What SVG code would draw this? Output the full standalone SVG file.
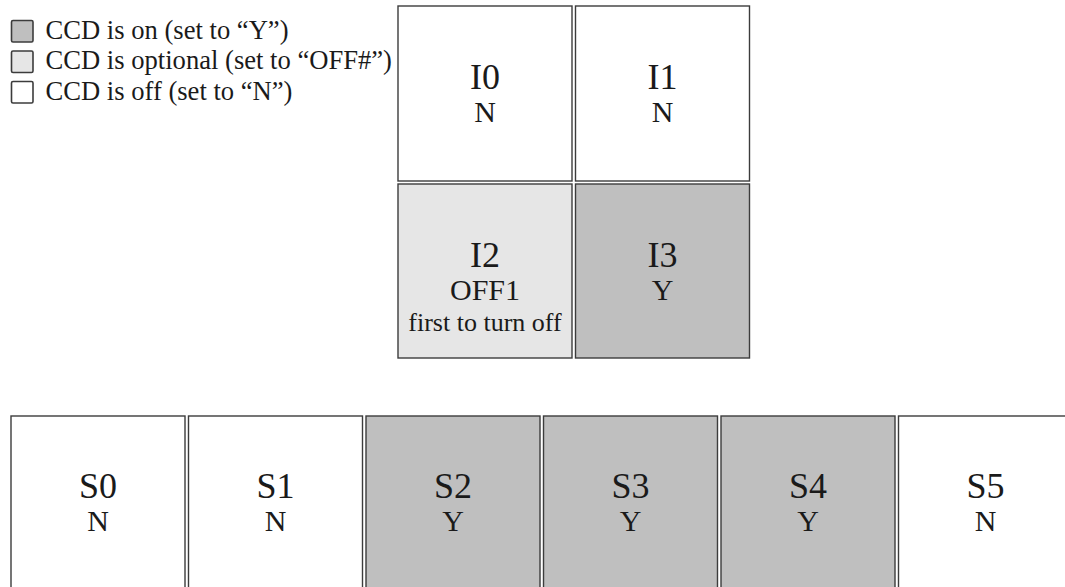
<svg xmlns="http://www.w3.org/2000/svg" width="1065" height="587" viewBox="0 0 1065 587">
<style>
  text { font-family: 'Liberation Serif', 'DejaVu Serif', 'Times New Roman', serif; fill: #1a1a1a; }
  .cell { stroke: #3c3c3c; stroke-width: 1.4; }
  .on { fill: #bfbfbf; }
  .opt { fill: #e6e6e6; }
  .off { fill: #ffffff; }
  .lg { font-size: 26.6px; }
  .name { font-size: 36px; text-anchor: middle; }
  .val { font-size: 30px; text-anchor: middle; }
  .note { font-size: 26px; text-anchor: middle; }
  .key { stroke: #3c3c3c; stroke-width: 1.6; }
</style>
<rect width="1065" height="587" fill="#ffffff"/>
<g id="legend">
  <rect class="key on" x="11.5" y="20.5" width="21.5" height="21.5" rx="1.5"/>
  <text class="lg" x="45.5" y="38.5">CCD is on (set to “Y”)</text>
  <rect class="key opt" x="11.5" y="51" width="21.5" height="21.5" rx="1.5"/>
  <text class="lg" x="45.5" y="69">CCD is optional (set to “OFF#”)</text>
  <rect class="key off" x="11.5" y="81.5" width="21.5" height="21.5" rx="1.5"/>
  <text class="lg" x="45.5" y="99.5">CCD is off (set to “N”)</text>
</g>
<g id="I0">
  <rect class="cell off" x="398" y="6" width="174" height="175"/>
  <text class="name" x="485" y="89">I0</text>
  <text class="val" x="485" y="122">N</text>
</g>
<g id="I1">
  <rect class="cell off" x="575.5" y="6" width="174" height="175"/>
  <text class="name" x="662.5" y="89">I1</text>
  <text class="val" x="662.5" y="122">N</text>
</g>
<g id="I2">
  <rect class="cell opt" x="398" y="184" width="174" height="174"/>
  <text class="name" x="485" y="267">I2</text>
  <text class="val" x="485" y="300">OFF1</text>
  <text class="note" x="485" y="331">first to turn off</text>
</g>
<g id="I3">
  <rect class="cell on" x="575.5" y="184" width="174" height="174"/>
  <text class="name" x="662.5" y="267">I3</text>
  <text class="val" x="662.5" y="300">Y</text>
</g>
<g id="S0">
  <rect class="cell off" x="11" y="416" width="174" height="190"/>
  <text class="name" x="98" y="498">S0</text>
  <text class="val" x="98" y="531">N</text>
</g>
<g id="S1">
  <rect class="cell off" x="188.5" y="416" width="174" height="190"/>
  <text class="name" x="275.5" y="498">S1</text>
  <text class="val" x="275.5" y="531">N</text>
</g>
<g id="S2">
  <rect class="cell on" x="366" y="416" width="174" height="190"/>
  <text class="name" x="453" y="498">S2</text>
  <text class="val" x="453" y="531">Y</text>
</g>
<g id="S3">
  <rect class="cell on" x="543.5" y="416" width="174" height="190"/>
  <text class="name" x="630.5" y="498">S3</text>
  <text class="val" x="630.5" y="531">Y</text>
</g>
<g id="S4">
  <rect class="cell on" x="721" y="416" width="174" height="190"/>
  <text class="name" x="808" y="498">S4</text>
  <text class="val" x="808" y="531">Y</text>
</g>
<g id="S5">
  <rect class="cell off" x="898.5" y="416" width="174" height="190"/>
  <text class="name" x="985.5" y="498">S5</text>
  <text class="val" x="985.5" y="531">N</text>
</g>
<g id="connectors"></g>
</svg>
